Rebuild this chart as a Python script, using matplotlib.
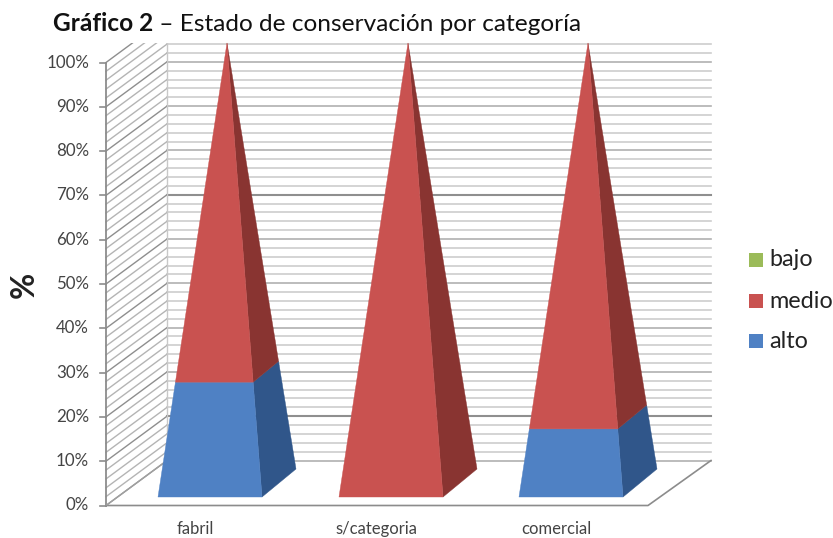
import matplotlib
matplotlib.use("Agg")
import matplotlib.pyplot as plt
from matplotlib.patches import Polygon, Rectangle

W, H = 833, 538

categories = ["fabril", "s/categoria", "comercial"]
alto = [25.3, 0, 15]
medio = [74.7, 100, 85]
bajo = [0, 0, 0]
tick_labels = ["0%", "10%", "20%", "30%", "40%", "50%", "60%", "70%", "80%", "90%", "100%"]
tick_values = [0, 10, 20, 30, 40, 50, 60, 70, 80, 90, 100]
grid_values = list(range(0, 102, 2))
legend_labels = ["bajo", "medio", "alto"]

BLUE, BLUE_SIDE = "#4f81c4", "#30568a"
RED, RED_SIDE = "#c95250", "#893431"
GREEN = "#9bbb59"

# oblique frame, in pixels of the reference
FRONT_X, FRONT_Y, PX_PER_PCT = 106, 505.5, 4.43
DX, DY = 61, -45
FLOOR_W = 542
TOP_CLIP = 43

# pyramid footprint
BASE_LEFT = [158, 339, 519]
BASE_W = 104
BASE_Y = 497
APEX_OFF = 69
BACK_DX, BACK_DY = 34, -28
APEX_Y = 43


def front(p):
    return FRONT_Y - p * PX_PER_PCT


fig = plt.figure(figsize=(W / 100, H / 100), dpi=100)
ax = fig.add_axes([0, 0, 1, 1])
ax.set_xlim(0, W)
ax.set_ylim(H, 0)
ax.axis("off")

# back wall and side wall lines
for g in grid_values:
    y = front(g)
    dark = g in (10, 60)
    major = g % 10 == 0
    col = "#8f8f8f" if dark else ("#b0b0b0" if major else "#cdcdcd")
    lw = 1.5 if dark else 1.2
    ax.plot([FRONT_X + DX, FRONT_X + DX + FLOOR_W + 2], [y + DY, y + DY], color=col, lw=lw, zorder=1)
    ax.plot([FRONT_X, FRONT_X + DX], [y, y + DY], color="#8e8e8e" if major else "#b4b4b4", lw=1.0, zorder=1)
ax.plot([FRONT_X + DX, FRONT_X + DX], [front(0) + DY, front(100) + DY], color="#c8c8c8", lw=1, zorder=1)

# white band under the title cuts the top of the chart
ax.add_patch(Rectangle((50, 0), 720, TOP_CLIP, fc="white", ec="none", zorder=2))

# floor and axis
ax.plot([FRONT_X, FRONT_X], [front(0), front(100)], color="#8c8c8c", lw=1.3, zorder=3)
ax.plot([FRONT_X, FRONT_X + FLOOR_W, FRONT_X + FLOOR_W + DX + 2],
        [front(0), front(0), front(0) + DY], color="#8c8c8c", lw=1.2, zorder=3)
ax.plot([FRONT_X, FRONT_X + DX], [front(0), front(0) + DY], color="#a0a0a0", lw=1, zorder=3)
for v, lab in zip(tick_values, tick_labels):
    ax.plot([FRONT_X - 6, FRONT_X], [front(v), front(v)], color="#8c8c8c", lw=1.2, zorder=3)
    ax.text(89, front(v), lab, ha="right", va="center", fontsize=12.2, color="#444444",
            family="Lato")


def pyramid_band(left, p0, p1, col_front, col_side):
    # p0, p1: percent of the pyramid height
    apex_x = left + APEX_OFF
    fl, fr = (left, BASE_Y), (left + BASE_W, BASE_Y)
    br = (left + BASE_W + BACK_DX, BASE_Y + BACK_DY)

    def toward(pt, p):
        return (pt[0] + (apex_x - pt[0]) * p / 100, pt[1] + (APEX_Y - pt[1]) * p / 100)

    ax.add_patch(Polygon([toward(fr, p0), toward(br, p0), toward(br, p1), toward(fr, p1)],
                         fc=col_side, ec=col_side, lw=0.3, zorder=4))
    ax.add_patch(Polygon([toward(fl, p0), toward(fr, p0), toward(fr, p1), toward(fl, p1)],
                         fc=col_front, ec=col_front, lw=0.3, zorder=5))


for left, a, m, b in zip(BASE_LEFT, alto, medio, bajo):
    if a > 0:
        pyramid_band(left, 0, a, BLUE, BLUE_SIDE)
    pyramid_band(left, a, a + m, RED, RED_SIDE)
    if b > 0:
        pyramid_band(left, a + m, a + m + b, GREEN, GREEN)

for left, cat in zip(BASE_LEFT, categories):
    ax.text(left + 37.5, 529, cat, ha="center", va="center", fontsize=12, color="#444444", family="Lato")

# legend
for y, lab, col in zip([260, 301, 341], legend_labels, [GREEN, RED, BLUE]):
    ax.add_patch(Rectangle((749, y - 7), 14, 14, fc=col, ec="none", zorder=5))
    ax.text(769, y, lab, ha="left", va="center", fontsize=16.8, color="#222222", family="Lato")

# axis title and chart title, two weights on one baseline
ax.text(24, 285, "%", rotation=90, ha="center", va="center", fontsize=23, fontweight="bold",
        color="#222222", family="Lato")
title_bold = ax.text(53, 31, "Gráfico 2", ha="left", va="baseline", fontsize=17.6, fontweight="bold",
                     color="#111111", family="Lato")
bold_end = title_bold.get_window_extent(fig.canvas.get_renderer()).x1
ax.text(bold_end, 31, " – Estado de conservación por categoría", ha="left", va="baseline",
        fontsize=17.6, color="#111111", family="Lato")

fig.savefig("out.png", dpi=100)
